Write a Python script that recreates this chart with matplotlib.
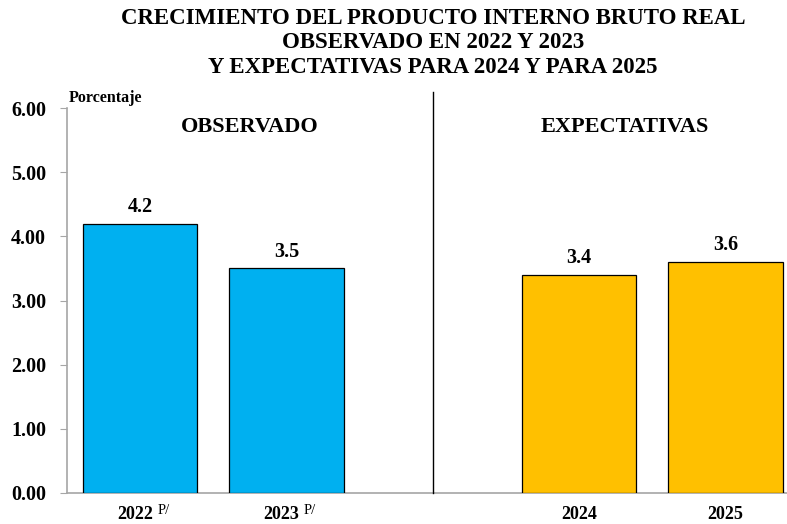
import matplotlib
matplotlib.use("Agg")
import matplotlib.pyplot as plt

categories = ["2022", "2023", "2024", "2025"]
suffixes = ["P/", "P/", "", ""]
values = [4.2, 3.5, 3.4, 3.6]
positions = [0, 1, 3, 4]
colors = ["#00B0F0", "#00B0F0", "#FFC000", "#FFC000"]
yticks = [0, 1, 2, 3, 4, 5, 6]
title = "CRECIMIENTO DEL PRODUCTO INTERNO BRUTO REAL\nOBSERVADO EN 2022 Y 2023\nY EXPECTATIVAS PARA 2024 Y PARA 2025"

FONT = "Liberation Serif"
plt.rcParams["font.family"] = FONT

fig = plt.figure(figsize=(7.87, 5.24), dpi=100)
ax = fig.add_axes([67/787, 31/524, 1 - 67/787, 385/524])

ax.bar(positions, values, width=0.78, color=colors, edgecolor="black", linewidth=0.9, zorder=3)
for p, v in zip(positions, values):
    ax.text(p, v + 0.26, f"{v:.1f}", ha="center", va="center", fontsize=14.5, fontweight="bold")

ax.set_xlim(-0.5, 4.42)
ax.set_ylim(0, 6)
ax.set_yticks(yticks)
ax.set_yticklabels([f"{t:.2f}" for t in yticks], fontsize=14.5, fontweight="bold")
ax.set_xticks([])

for s in ["top", "right"]:
    ax.spines[s].set_visible(False)
for s in ["left", "bottom"]:
    ax.spines[s].set_color("#A6A6A6")
    ax.spines[s].set_linewidth(1.2)
ax.tick_params(axis="y", length=5, color="#A6A6A6", pad=10)

# x labels
for p, c, sfx in zip(positions, categories, suffixes):
    if sfx:
        ax.text(p - 0.035, -0.33, c, ha="center", va="center", fontsize=13, fontweight="bold")
        ax.text(p + 0.12, -0.27, sfx, ha="left", va="center", fontsize=10.5)
    else:
        ax.text(p, -0.33, c, ha="center", va="center", fontsize=13, fontweight="bold")

# divider
ax.plot([2, 2], [0, 6.25], color="black", linewidth=1.0, clip_on=False, zorder=4)

ax.text(0.75, 5.70, "OBSERVADO", ha="center", va="center", fontsize=16, fontweight="bold")
ax.text(3.31, 5.70, "EXPECTATIVAS", ha="center", va="center", fontsize=16, fontweight="bold")
ax.text(-0.49, 6.03, "Porcentaje", ha="left", va="bottom", fontsize=11.5, fontweight="bold")

fig.text(433/787, 1 - 43/524, title, ha="center", va="center", fontsize=16.5, fontweight="bold", linespacing=1.2)

fig.savefig("out.png", dpi=100)
